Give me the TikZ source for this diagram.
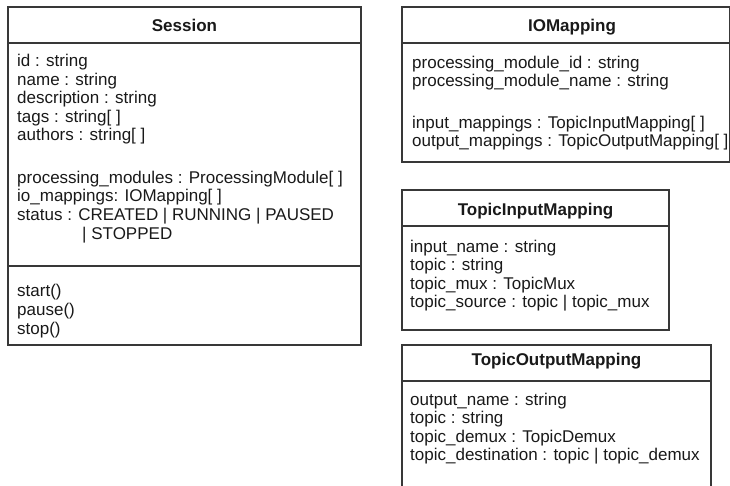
\documentclass[tikz,border=0pt]{standalone}
\usepackage{fontspec}
\setmainfont{Liberation Sans}
\begin{document}
\begin{tikzpicture}[x=1pt, y=-1pt]
\tikzset{
  umlbox/.style={draw=black!78, line width=1.3pt, rectangle, inner sep=0pt, outer sep=0pt, anchor=north west},
  umlsep/.style={draw=black!78, line width=1.3pt},
  umltitle/.style={font=\fontsize{17}{18.5}\selectfont\bfseries, text=black!90, inner sep=0pt, anchor=base},
  umlattr/.style={font=\fontsize{17}{18.5}\selectfont, text=black!90, inner sep=0pt, anchor=base west},
}
\useasboundingbox (0,0) rectangle (730,485);

% ---- Session class ----
\node[umlbox, minimum width=353pt, minimum height=338pt] (session) at (8,7) {};
\draw[umlsep] ([yshift=-36pt]session.north west) -- ([yshift=-36pt]session.north east);
\draw[umlsep] ([yshift=-259pt]session.north west) -- ([yshift=-259pt]session.north east);
\node[umltitle] (session-title) at (184.5,31.7) {Session};
\foreach \t [count=\i] in {id : string, name : string, description : string, tags : string[ ], authors : string[ ]}
  \node[umlattr] (session-a\i) at (17,{66.7+18.5*(\i-1)}) {\t};
\foreach \t [count=\i] in {processing\_modules : ProcessingModule[ ], io\_mappings: IOMapping[ ], status : CREATED | RUNNING | PAUSED}
  \node[umlattr] (session-b\i) at (17,{183+18.5*(\i-1)}) {\t};
\node[umlattr] (session-b4) at (82,239) {| STOPPED};
\foreach \t [count=\i] in {start(), pause(), stop()}
  \node[umlattr] (session-m\i) at (17,{296+19*(\i-1)}) {\t};

% ---- IOMapping class ----
\node[umlbox, minimum width=327.5pt, minimum height=155pt] (iomap) at (402,7) {};
\draw[umlsep] ([yshift=-36pt]iomap.north west) -- ([yshift=-36pt]iomap.north east);
\node[umltitle] (iomap-title) at (572,31.7) {IOMapping};
\foreach \t [count=\i] in {processing\_module\_id : string, processing\_module\_name : string}
  \node[umlattr] (iomap-a\i) at (412,{68+18.7*(\i-1)}) {\t};
\foreach \t [count=\i] in {input\_mappings : TopicInputMapping[ ], output\_mappings : TopicOutputMapping[ ]}
  \node[umlattr] (iomap-b\i) at (412,{128+18.7*(\i-1)}) {\t};

% ---- TopicInputMapping class ----
\node[umlbox, minimum width=267pt, minimum height=140pt] (tin) at (402,190) {};
\draw[umlsep] ([yshift=-36pt]tin.north west) -- ([yshift=-36pt]tin.north east);
\node[umltitle] (tin-title) at (535.5,215) {TopicInputMapping};
\foreach \t [count=\i] in {input\_name : string, topic : string, topic\_mux : TopicMux, topic\_source : topic | topic\_mux}
  \node[umlattr] (tin-a\i) at (410,{252+18.6*(\i-1)}) {\t};

% ---- TopicOutputMapping class ----
\node[umlbox, minimum width=309pt, minimum height=160pt] (tout) at (402,345) {};
\draw[umlsep] ([yshift=-36pt]tout.north west) -- ([yshift=-36pt]tout.north east);
\node[umltitle] (tout-title) at (556.5,365) {TopicOutputMapping};
\foreach \t [count=\i] in {output\_name : string, topic : string, topic\_demux : TopicDemux, topic\_destination : topic | topic\_demux}
  \node[umlattr] (tout-a\i) at (410,{405+18.5*(\i-1)}) {\t};
\end{tikzpicture}
\end{document}
